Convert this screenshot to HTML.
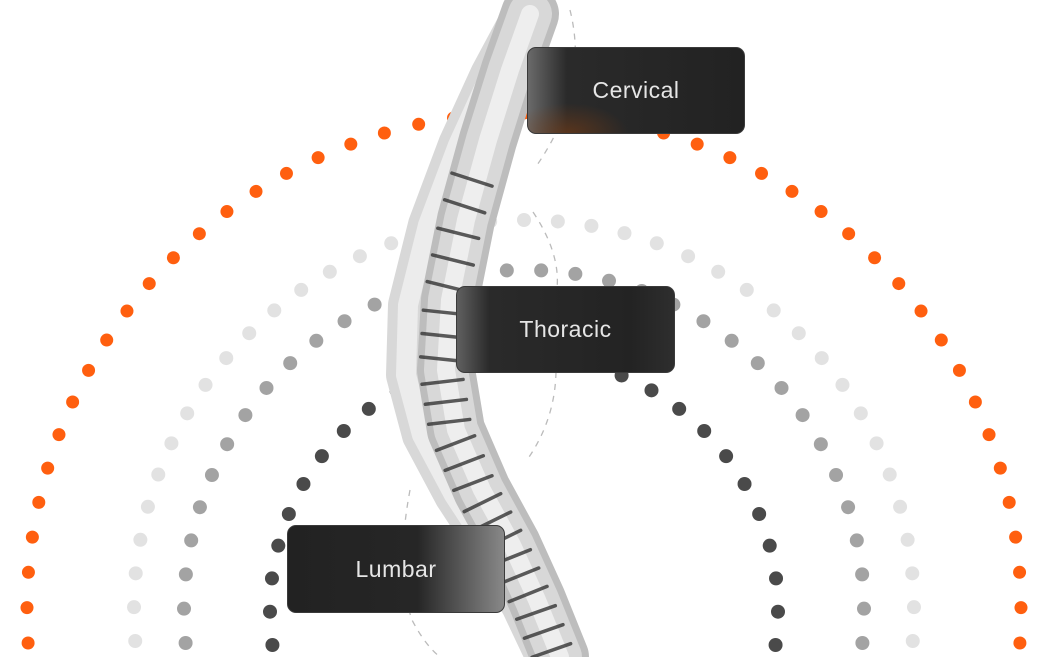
<!DOCTYPE html>
<html><head><meta charset="utf-8"><style>
html,body{margin:0;padding:0;background:#fff;}
body{width:1050px;height:657px;overflow:hidden;position:relative;font-family:"Liberation Sans",sans-serif;}
svg{position:absolute;left:0;top:0}
.box{position:absolute;border-radius:9px;border:1.5px solid #3a3a3a;color:#e6e6e6;font-size:23px;display:flex;align-items:center;justify-content:center;letter-spacing:0.5px;box-sizing:border-box}
</style></head><body>
<svg id="s" width="1050" height="657" viewBox="0 0 1050 657">
<g id="dots"></g>
<g fill="none" stroke="#bbb" stroke-width="1.3" stroke-dasharray="6 6">
<path d="M570 10 Q590 90 535 168"/>
<path d="M533 212 Q565 260 555 300"/>
<path d="M556 372 Q555 420 527 460"/>
<path d="M410 490 Q395 570 412 620 Q425 645 440 657"/>
</g>
<g id="spine"></g>
</svg>
<div class="box" style="left:527px;top:47px;width:218px;height:87px;background:radial-gradient(ellipse 60px 30px at 40px 85px,rgba(120,60,20,0.6),rgba(0,0,0,0)),linear-gradient(90deg,#6a6a6a 0%,#2a2a2a 18%,#222 100%);">
<span style="position:relative">Cervical</span></div>
<div class="box" style="left:456px;top:286px;width:219px;height:87px;background:linear-gradient(90deg,#606060 0%,#2a2a2a 15%,#232323 80%,#2e2e2e 100%);">Thoracic</div>
<div class="box" style="left:287px;top:525px;width:218px;height:88px;background:linear-gradient(90deg,#222 0%,#262626 60%,#888 100%);">Lumbar</div>
<script>
var ns="http://www.w3.org/2000/svg";
var g=document.getElementById('dots');
function dot(x,y,r,c,p){var e=document.createElementNS(ns,'circle');e.setAttribute('cx',x);e.setAttribute('cy',y);e.setAttribute('r',r);e.setAttribute('fill',c);(p||g).appendChild(e);}
var cx=524,cy=610;
function arc2(R,step,col,rad,ybot){
 var a0=Math.asin((ybot-cy)/R);
 var total=Math.PI+2*a0; var n=Math.round(total*R/step); var d=total/n;
 for(var i=0;i<=n;i++){var t=Math.PI+a0-i*d;dot(cx+R*Math.cos(t),cy-R*Math.sin(t),rad,col);}
}
arc2(497,35,'#ff5f0f',6.5,643);
arc2(390,34,'#e2e2e2',7,641);
arc2(340,34,'#a3a3a3',7,643);
arc2(254,34,'#4a4a4a',7,645);
dot(493,116,3,'#ff5f0f');
var sp=document.getElementById('spine');
var pts=[[530,14],[510,70],[488,140],[466,220],[450,300],[446,370],[456,430],[482,490],[512,545],[537,600],[560,657]];
var d="M"+pts.map(function(p){return p.join(' ');}).join(' L');
function path(dd,st,w,extra){var e=document.createElementNS(ns,'path');e.setAttribute('d',dd);e.setAttribute('fill','none');e.setAttribute('stroke',st);e.setAttribute('stroke-width',w);e.setAttribute('stroke-linejoin','round');e.setAttribute('stroke-linecap','round');if(extra)for(var k in extra)e.setAttribute(k,extra[k]);sp.appendChild(e);}
var offs=[10,20,30,38,42,40,34,28,22,16,12];
var dl="M"+pts.map(function(p,i){return (p[0]-offs[i])+' '+(p[1]+5);}).join(' L');
path(dl,'#d8d8d8',40);
path(dl,'#ececec',20);
path(d,'#bdbdbd',58);
path(d,'#d8d8d8',44);
path(d,'#eeeeee',18);
for(var i=1;i<pts.length-1;i++){
 for(var k=0;k<3;k++){
  var f=(k+0.5)/3;var x=pts[i][0]+(pts[i+1][0]-pts[i][0])*f,y=pts[i][1]+(pts[i+1][1]-pts[i][1])*f;
  if(y<160)continue;
  var dx=pts[i+1][0]-pts[i][0],dy=pts[i+1][1]-pts[i][1],L=Math.hypot(dx,dy);var nx=-dy/L,ny=dx/L;
  var w=26;path("M"+(x-nx*w*0.6)+" "+(y-ny*w*0.6+2)+" L"+(x+nx*w)+" "+(y+ny*w),'#333',3.5,{opacity:0.8});
 }
}
</script>
</body></html>
